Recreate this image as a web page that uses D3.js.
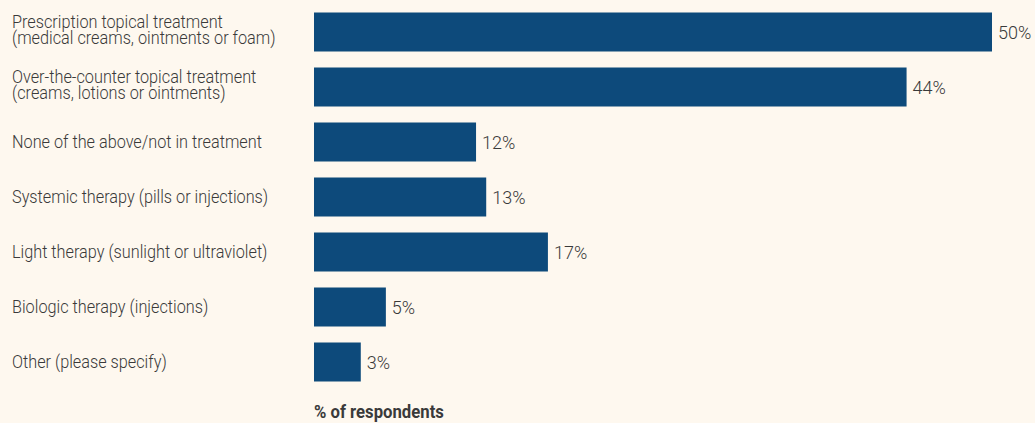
<!DOCTYPE html>
<html>
<head>
<meta charset="utf-8">
<script src="https://cdn.jsdelivr.net/npm/d3@7"></script>
<style>
    html, body { margin: 0; padding: 0; background: #fef8ef; }
    svg { display: block; }
    text { font-family: "Roboto", "Liberation Sans", sans-serif; fill: #3a3a3a; }
</style>
</head>
<body>
<div id="chart-container"></div>
<script>
const categories = [
    ["Prescription topical treatment", "(medical creams, ointments or foam)"],
    ["Over-the-counter topical treatment", "(creams, lotions or ointments)"],
    ["None of the above/not in treatment"],
    ["Systemic therapy (pills or injections)"],
    ["Light therapy (sunlight or ultraviolet)"],
    ["Biologic therapy (injections)"],
    ["Other (please specify)"]
];
const values = [50, 43.7, 11.95, 12.7, 17.25, 5.3, 3.45];
const axisTitle = "% of respondents";

const width = 1035;
const height = 423;
const margin = {top: 12.5, left: 314};
const step = 55;
const barHeight = 39;

function initChart() {
    const svg = d3.select("#chart-container").append("svg")
        .attr("width", width)
        .attr("height", height);

    svg.append("rect")
        .attr("width", width)
        .attr("height", height)
        .attr("fill", "#fef8ef");

    const x = d3.scaleLinear()
        .domain([0, 50])
        .range([0, 678]);

    const y = d3.scaleBand()
        .domain(d3.range(categories.length))
        .range([0, step * categories.length - (step - barHeight)])
        .paddingInner((step - barHeight) / step)
        .paddingOuter(0);

    const chart = svg.append("g")
        .attr("transform", `translate(${margin.left}, ${margin.top})`);

    chart.selectAll("rect.bar")
        .data(values)
        .enter().append("rect")
        .attr("class", "bar")
        .attr("x", 0)
        .attr("y", (d, i) => y(i))
        .attr("width", d => x(d))
        .attr("height", y.bandwidth())
        .attr("fill", "#0d4a7b");

    chart.selectAll("text.value")
        .data(values)
        .enter().append("text")
        .attr("class", "value")
        .attr("x", d => x(d) + 6)
        .attr("y", (d, i) => y(i) + y.bandwidth() / 2 + 6.5)
        .style("font-size", "18px")
        .style("font-weight", 300)
        .text(d => Math.round(d) + "%");

    // category labels, one or two lines, squeezed to the narrow face of the original
    const labels = svg.append("g")
        .selectAll("text")
        .data(categories)
        .enter().append("text")
        .style("font-size", "18px")
        .style("font-weight", 300);

    labels.selectAll("tspan")
        .data(d => d)
        .enter().append("tspan")
        .attr("x", 0)
        .attr("dy", (d, i) => i === 0 ? 0 : 16)
        .text(d => d);

    const firstWidth = labels.select("tspan").node().getComputedTextLength();
    const squeeze = 211 / firstWidth;

    labels.attr("transform", (d, i) => {
        const yPos = margin.top + y(i) + y.bandwidth() / 2 + 6 - (d.length - 1) * 10;
        return `translate(12, ${yPos}) scale(${squeeze}, 1)`;
    });

    const title = svg.append("text")
        .style("font-size", "18px")
        .style("font-weight", "bold")
        .text(axisTitle);
    const titleSqueeze = 130 / title.node().getComputedTextLength();
    title.attr("transform", `translate(${margin.left}, 418) scale(${titleSqueeze}, 1)`);
}

initChart();
</script>
</body>
</html>
